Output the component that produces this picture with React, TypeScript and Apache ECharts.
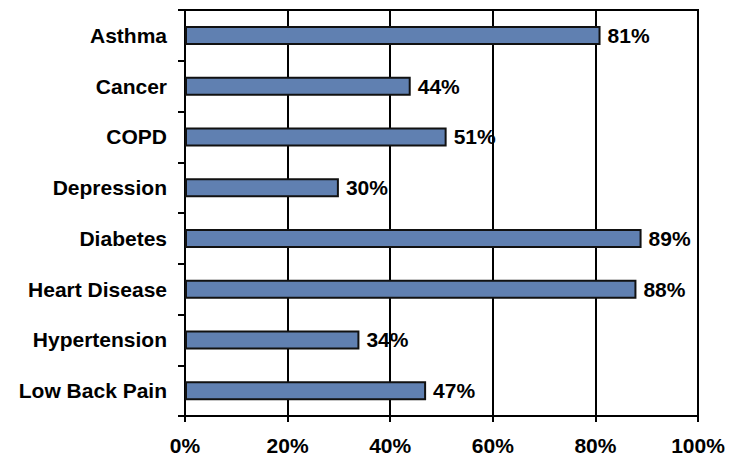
import React, { useEffect, useRef } from "react";
import * as echarts from "echarts";

// Share of patients per condition (percent)
const categories = [
  "Asthma",
  "Cancer",
  "COPD",
  "Depression",
  "Diabetes",
  "Heart Disease",
  "Hypertension",
  "Low Back Pain",
];
const values = [81, 44, 51, 30, 89, 88, 34, 47];
const xTicks = [0, 20, 40, 60, 80, 100];

const FONT = "'Liberation Sans', Arial, Helvetica, sans-serif";
const INK = "#000000";

export default function App() {
  const ref = useRef<HTMLDivElement>(null);

  useEffect(() => {
    if (!ref.current) return;
    const chart = echarts.init(ref.current, undefined, { renderer: "svg" });
    chart.setOption({
      animation: false,
      backgroundColor: "#ffffff",
      grid: {
        left: 185,
        right: 32,
        top: 10,
        bottom: 43,
        show: true,
        borderColor: INK,
        borderWidth: 2,
        outerBoundsMode: "none",
      },
      xAxis: {
        type: "value",
        min: xTicks[0],
        max: xTicks[xTicks.length - 1],
        interval: 20,
        axisLine: { show: true, lineStyle: { color: INK, width: 2 } },
        axisTick: { show: true, length: 6, lineStyle: { color: INK, width: 2 } },
        splitLine: { show: true, lineStyle: { color: INK, width: 2 } },
        axisLabel: {
          margin: 19,
          color: INK,
          fontFamily: FONT,
          fontWeight: "bold",
          fontSize: 21,
          formatter: (v: number) => `${v}%`,
        },
      },
      yAxis: {
        type: "category",
        data: categories,
        inverse: true,
        axisLine: { show: true, lineStyle: { color: INK, width: 2 } },
        axisTick: { show: true, length: 7, lineStyle: { color: INK, width: 2 } },
        axisLabel: {
          margin: 18,
          color: INK,
          fontFamily: FONT,
          fontWeight: "bold",
          fontSize: 21,
        },
      },
      series: [
        {
          type: "bar",
          data: values,
          barWidth: 19,
          itemStyle: {
            color: "#6080b1",
            borderColor: "#111111",
            borderWidth: 2,
          },
          label: {
            show: true,
            position: "right",
            distance: 7,
            color: INK,
            fontFamily: FONT,
            fontWeight: "bold",
            fontSize: 21,
            formatter: (p: any) => `${p.value}%`,
          },
        },
      ],
    });
    return () => chart.dispose();
  }, []);

  return (
    <div
      ref={ref}
      style={{ position: "fixed", left: 0, top: 0, width: 730, height: 459 }}
    />
  );
}
